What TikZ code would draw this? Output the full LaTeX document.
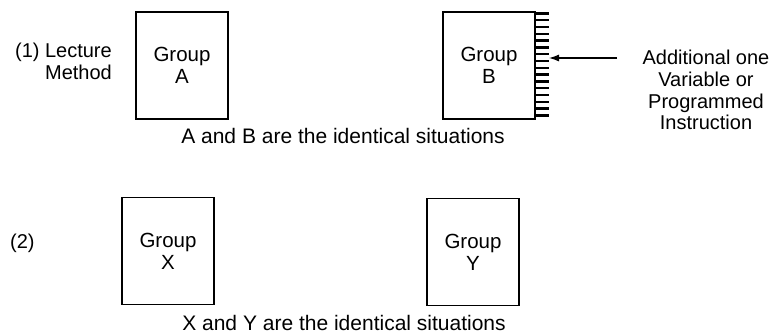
\documentclass[tikz,border=0pt]{standalone}
\usepackage{fontspec}
\setmainfont{Liberation Sans}
\usetikzlibrary{arrows.meta}
\begin{document}
\begin{tikzpicture}[x=1pt,y=-1pt,
  grp/.style={draw, line width=1.2pt, minimum width=92pt, minimum height=107pt,
    inner sep=0pt, align=center, font={\fontsize{20.5}{22}\selectfont}},
  lbl/.style={inner sep=0pt, font={\fontsize{20}{22}\selectfont}},
  sit/.style={inner sep=0pt, anchor=base, font={\fontsize{21}{24}\selectfont}},
  hatch/.style={line width=2.5pt},
  arr/.style={line width=1.2pt, -{Latex[length=10pt,width=7pt]}}]
\useasboundingbox (0,0) rectangle (780,335);
% row 1
\node[lbl, anchor=base east] (lec) at (112,57.7)
  {\begin{tabular}[t]{@{}r@{}}(1) Lecture\\Method\end{tabular}};
\node[grp] (A) at (182,65.5) {Group\\A};
\node[grp] (B) at (489,65.5) {Group\\B};
\foreach \i in {0,...,15}
  \draw[hatch] ([yshift=-2pt-\i*6.8pt]B.north east) -- ++(13,0);
\coordinate (src) at (617,58);
\coordinate (hit) at (549,58);
\draw[arr] (src) -- (hit);
\node[lbl, anchor=base, font={\fontsize{20}{21.7}\selectfont}] (note) at (706,64.7)
  {\begin{tabular}[t]{@{}c@{}}Additional one\\Variable or\\Programmed\\Instruction\end{tabular}};
\node[sit] (ab) at (343,143) {A and B are the identical situations};
% row 2
\node[lbl, anchor=base west] (two) at (10,248) {(2)};
\node[grp] (X) at (168,251) {Group\\X};
\node[grp] (Y) at (473,252) {Group\\Y};
\node[sit] (xy) at (344,330) {X and Y are the identical situations};
\end{tikzpicture}
\end{document}
